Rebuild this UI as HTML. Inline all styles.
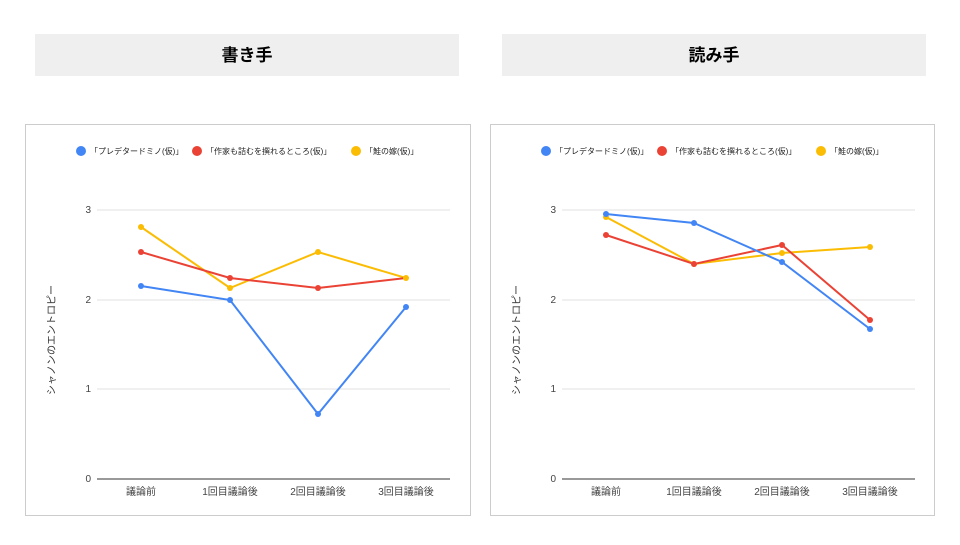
<!DOCTYPE html>
<html><head><meta charset="utf-8"><style>
body{margin:0;background:#fff;width:960px;height:540px;overflow:hidden;font-family:"Liberation Sans","Noto Sans CJK JP",sans-serif}
</style></head><body>
<svg width="960" height="540" viewBox="0 0 960 540" font-family="Liberation Sans, Noto Sans CJK JP, sans-serif">
<rect x="35" y="34" width="424" height="42" fill="#efefef"/>
<rect x="502" y="34" width="424" height="42" fill="#efefef"/>
<text x="247" y="61" font-size="17" font-weight="bold" text-anchor="middle" fill="#000">書き手</text>
<text x="714" y="61" font-size="17" font-weight="bold" text-anchor="middle" fill="#000">読み手</text>
<g id="c1">
<rect x="25.5" y="124.5" width="445" height="391" fill="#fff" stroke="#ccc"/>
<g font-size="8" fill="#222">
<circle cx="81" cy="151" r="5" fill="#4285f4"/><text x="90" y="154">「プレデタードミノ(仮)」</text>
<circle cx="197" cy="151" r="5" fill="#ea4335"/><text x="206" y="154">「作家も詰むを撰れるところ(仮)」</text>
<circle cx="356" cy="151" r="5" fill="#fbbc04"/><text x="365" y="154">「鮭の嫁(仮)」</text>
</g>
<g stroke="#e0e0e0" stroke-width="1"><line x1="97" x2="450" y1="210" y2="210"/><line x1="97" x2="450" y1="300" y2="300"/><line x1="97" x2="450" y1="389" y2="389"/></g>
<line x1="97" x2="450" y1="479" y2="479" stroke="#333"/>
<g font-size="10" fill="#444" text-anchor="end"><text x="91" y="213">3</text><text x="91" y="303">2</text><text x="91" y="392">1</text><text x="91" y="482">0</text></g>
<g font-size="10" fill="#444" text-anchor="middle"><text x="141" y="495">議論前</text><text x="230" y="495">1回目議論後</text><text x="318" y="495">2回目議論後</text><text x="406" y="495">3回目議論後</text></g>
<text transform="translate(55,340) rotate(-90)" font-size="10" fill="#333" text-anchor="middle">シャノンのエントロピー</text>
<polyline points="141,227 230,288 318,252 406,278" fill="none" stroke="#fbbc04" stroke-width="2"/>
<polyline points="141,252 230,278 318,288 406,278" fill="none" stroke="#ea4335" stroke-width="2"/>
<polyline points="141,286 230,300 318,414 406,307" fill="none" stroke="#4285f4" stroke-width="2"/>
<g fill="#fbbc04"><circle cx="141" cy="227" r="3"/><circle cx="230" cy="288" r="3"/><circle cx="318" cy="252" r="3"/><circle cx="406" cy="278" r="3"/></g>
<g fill="#ea4335"><circle cx="141" cy="252" r="3"/><circle cx="230" cy="278" r="3"/><circle cx="318" cy="288" r="3"/></g>
<g fill="#4285f4"><circle cx="141" cy="286" r="3"/><circle cx="230" cy="300" r="3"/><circle cx="318" cy="414" r="3"/><circle cx="406" cy="307" r="3"/></g>
</g>
<g transform="translate(465,0)">
<rect x="25.5" y="124.5" width="444" height="391" fill="#fff" stroke="#ccc"/>
<g font-size="8" fill="#222">
<circle cx="81" cy="151" r="5" fill="#4285f4"/><text x="90" y="154">「プレデタードミノ(仮)」</text>
<circle cx="197" cy="151" r="5" fill="#ea4335"/><text x="206" y="154">「作家も詰むを撰れるところ(仮)」</text>
<circle cx="356" cy="151" r="5" fill="#fbbc04"/><text x="365" y="154">「鮭の嫁(仮)」</text>
</g>
<g stroke="#e0e0e0" stroke-width="1"><line x1="97" x2="450" y1="210" y2="210"/><line x1="97" x2="450" y1="300" y2="300"/><line x1="97" x2="450" y1="389" y2="389"/></g>
<line x1="97" x2="450" y1="479" y2="479" stroke="#333"/>
<g font-size="10" fill="#444" text-anchor="end"><text x="91" y="213">3</text><text x="91" y="303">2</text><text x="91" y="392">1</text><text x="91" y="482">0</text></g>
<g font-size="10" fill="#444" text-anchor="middle"><text x="141" y="495">議論前</text><text x="229" y="495">1回目議論後</text><text x="317" y="495">2回目議論後</text><text x="405" y="495">3回目議論後</text></g>
<text transform="translate(55,340) rotate(-90)" font-size="10" fill="#333" text-anchor="middle">シャノンのエントロピー</text>
<polyline points="141,217 229,264 317,253 405,247" fill="none" stroke="#fbbc04" stroke-width="2"/>
<polyline points="141,235 229,264 317,245 405,320" fill="none" stroke="#ea4335" stroke-width="2"/>
<polyline points="141,214 229,223 317,262 405,329" fill="none" stroke="#4285f4" stroke-width="2"/>
<g fill="#fbbc04"><circle cx="141" cy="217" r="3"/><circle cx="229" cy="264" r="3"/><circle cx="317" cy="253" r="3"/><circle cx="405" cy="247" r="3"/></g>
<g fill="#ea4335"><circle cx="141" cy="235" r="3"/><circle cx="229" cy="264" r="3"/><circle cx="317" cy="245" r="3"/><circle cx="405" cy="320" r="3"/></g>
<g fill="#4285f4"><circle cx="141" cy="214" r="3"/><circle cx="229" cy="223" r="3"/><circle cx="317" cy="262" r="3"/><circle cx="405" cy="329" r="3"/></g>
</g>
</svg>
</body></html>
